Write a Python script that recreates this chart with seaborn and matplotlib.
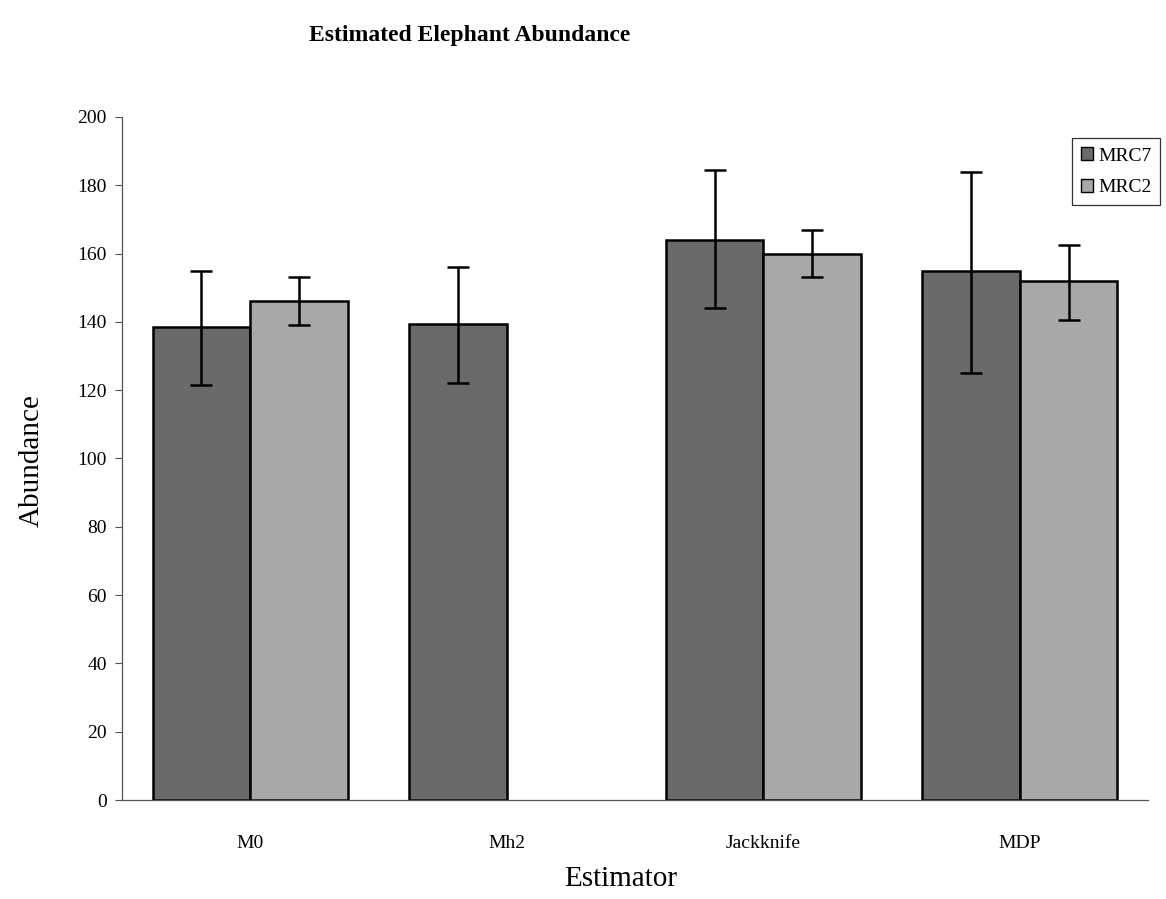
import matplotlib
matplotlib.use("Agg")
import matplotlib.pyplot as plt
import seaborn as sns
import numpy as np
import pandas as pd
from matplotlib.patches import Patch

# ---- data ----
categories = ["M0", "Mh2", "Jackknife", "MDP"]
series_names = ["MRC7", "MRC2"]
mrc7_values = [138.5, 139.5, 164.0, 155.0]
mrc7_lower = [121.5, 122.0, 144.0, 125.0]
mrc7_upper = [155.0, 156.0, 184.5, 184.0]
mrc2_values = [146.0, np.nan, 160.0, 152.0]
mrc2_lower = [139.0, np.nan, 153.0, 140.5]
mrc2_upper = [153.0, np.nan, 167.0, 162.5]
y_ticks = [0, 20, 40, 60, 80, 100, 120, 140, 160, 180, 200]

colors = {"MRC7": "#6a6a6a", "MRC2": "#a8a8a8"}

rows = []
for i, c in enumerate(categories):
    rows.append(dict(Estimator=c, Series="MRC7", Abundance=mrc7_values[i],
                     lo=mrc7_lower[i], hi=mrc7_upper[i]))
    rows.append(dict(Estimator=c, Series="MRC2", Abundance=mrc2_values[i],
                     lo=mrc2_lower[i], hi=mrc2_upper[i]))
df = pd.DataFrame(rows)
df_plot = df.dropna(subset=["Abundance"])

sns.set_style("white")
plt.rcParams["font.family"] = ["Liberation Serif", "DejaVu Serif"]
plt.rcParams["text.color"] = "black"
plt.rcParams["xtick.color"] = "black"
plt.rcParams["ytick.color"] = "black"

fig = plt.figure(figsize=(11.66, 8.99), dpi=100)
ax = fig.add_axes([0.1046, 0.1101, 0.880, 0.7598])

sns.barplot(data=df_plot, x="Estimator", y="Abundance", hue="Series",
            order=categories, hue_order=series_names, palette=colors,
            width=0.76, errorbar=None, edgecolor="black", linewidth=1.8,
            saturation=1, ax=ax, legend=False)

# error bars from bar positions
for cont, sname in zip(ax.containers, series_names):
    sub = df[df["Series"] == sname].reset_index(drop=True)
    for bar in cont:
        xc = bar.get_x() + bar.get_width() / 2
        idx = int(round(xc))
        r = sub.iloc[idx]
        if np.isnan(r["Abundance"]):
            continue
        ax.errorbar(xc, r["Abundance"],
                    yerr=[[r["Abundance"] - r["lo"]], [r["hi"] - r["Abundance"]]],
                    fmt="none", ecolor="black", elinewidth=1.8, capsize=8,
                    capthick=1.8, zorder=5)

ax.set_xlim(-0.5, 3.5)
ax.set_ylim(0, 200)
ax.set_yticks(y_ticks)
ax.set_yticklabels([str(t) for t in y_ticks], fontsize=14)
ax.set_xticks(range(len(categories)))
ax.set_xticklabels(categories, fontsize=14)
ax.set_xticks(np.arange(-0.5, 4, 1.0), minor=True)
ax.tick_params(axis="x", which="major", length=0, pad=25)
ax.tick_params(axis="x", which="minor", length=5, width=0.8, direction="out", color="#555555")
ax.tick_params(axis="y", which="major", length=5, width=0.8, direction="out", left=True, pad=6, color="#555555")
ax.set_xlabel("")
ax.set_ylabel("")
for s in ["top", "right"]:
    ax.spines[s].set_visible(False)
for s in ["left", "bottom"]:
    ax.spines[s].set_color("#555555")
    ax.spines[s].set_linewidth(0.9)

handles = [Patch(facecolor=colors[n], edgecolor="black", linewidth=1.0, label=n) for n in series_names]
leg = fig.legend(handles=handles, loc="upper right", bbox_to_anchor=(0.995, 0.846),
                 bbox_transform=fig.transFigure, fontsize=14, frameon=True,
                 fancybox=False, handlelength=0.65, handleheight=0.65,
                 handletextpad=0.25, borderpad=0.45, labelspacing=0.75, borderaxespad=0)
leg.get_frame().set_edgecolor("black")
leg.get_frame().set_linewidth(0.9)

fig.text(0.403, 0.961, "Estimated Elephant Abundance", ha="center", va="center",
         fontsize=17, fontweight="bold")
fig.text(0.027, 0.488, "Abundance", ha="center", va="center", rotation=90, fontsize=21)
fig.text(0.532, 0.022, "Estimator", ha="center", va="center", fontsize=21)

fig.savefig("out.png", dpi=100)
